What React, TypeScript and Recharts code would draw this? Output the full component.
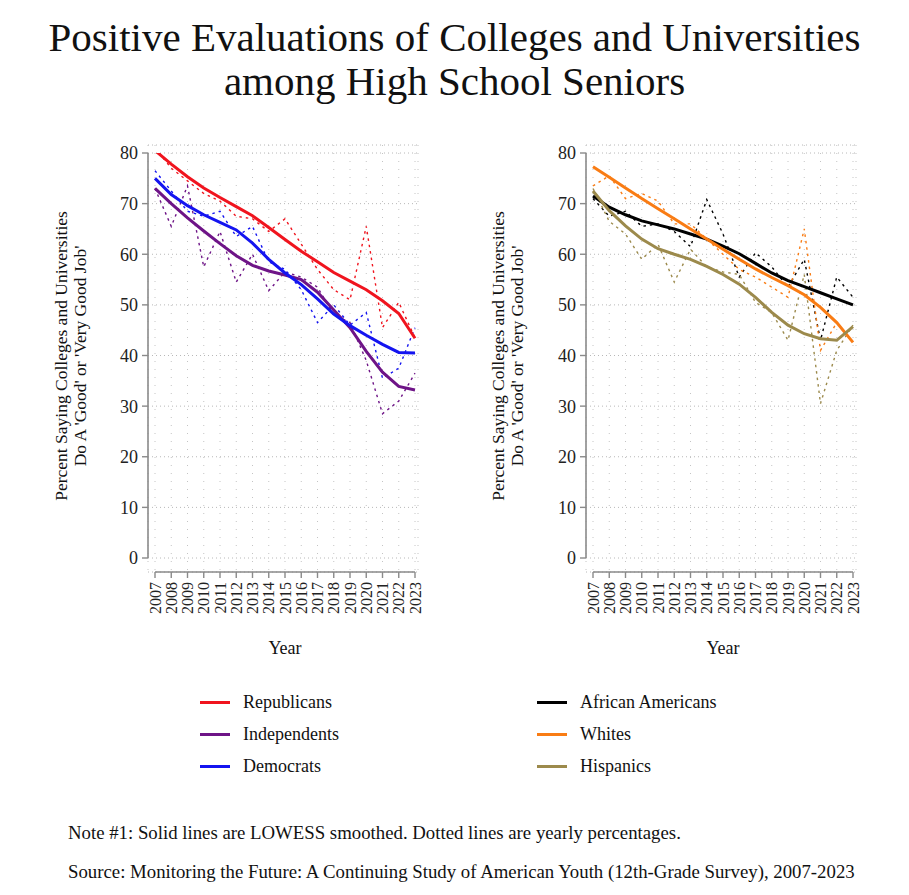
import { CartesianGrid, Line, LineChart, XAxis, YAxis } from "recharts";

const years = [2007, 2008, 2009, 2010, 2011, 2012, 2013, 2014, 2015, 2016, 2017, 2018, 2019, 2020, 2021, 2022, 2023];
const yTicks = [0, 10, 20, 30, 40, 50, 60, 70, 80];

// left panel: party
const repSmooth = [80.5, 77.8, 75.3, 73.1, 71.2, 69.4, 67.6, 65.3, 62.9, 60.6, 58.5, 56.4, 54.7, 53.0, 50.8, 48.3, 43.4];
const repYearly = [81.0, 77.0, 74.5, 72.0, 70.5, 67.5, 67.0, 64.5, 67.0, 62.0, 57.0, 53.0, 51.0, 65.5, 45.5, 50.5, 43.5];
const indSmooth = [73.0, 70.0, 67.2, 64.6, 62.1, 59.7, 57.8, 56.7, 55.9, 55.0, 52.5, 49.0, 45.5, 40.8, 36.7, 33.9, 33.2];
const indYearly = [73.0, 65.5, 73.5, 57.5, 64.5, 54.5, 60.0, 52.8, 56.5, 55.5, 53.5, 48.0, 46.5, 39.0, 28.5, 31.0, 36.5];
const demSmooth = [75.0, 71.8, 69.6, 67.8, 66.3, 64.8, 62.2, 59.0, 56.3, 54.0, 51.2, 48.2, 45.9, 44.0, 42.2, 40.6, 40.5];
const demYearly = [76.5, 72.5, 68.5, 67.5, 68.5, 63.5, 65.5, 58.5, 57.0, 53.0, 46.5, 50.0, 46.0, 48.5, 35.5, 37.5, 45.5];

// right panel: race / ethnicity
const blackSmooth = [71.5, 69.3, 67.8, 66.6, 65.8, 65.0, 64.0, 63.0, 61.6, 60.1, 58.2, 56.3, 54.8, 53.6, 52.4, 51.2, 50.0];
const blackYearly = [71.0, 67.5, 68.5, 65.5, 66.0, 64.5, 61.5, 70.8, 64.0, 55.5, 60.3, 57.5, 53.5, 59.0, 43.0, 55.5, 51.5];
const whiteSmooth = [77.3, 75.2, 73.1, 71.0, 69.0, 67.0, 65.0, 63.0, 61.0, 59.0, 57.1, 55.4, 53.8, 52.0, 49.5, 46.5, 42.6];
const whiteYearly = [73.5, 75.5, 71.0, 72.0, 70.5, 66.0, 66.0, 63.0, 60.0, 57.0, 55.5, 53.5, 51.5, 65.0, 41.0, 46.5, 42.5];
const hispSmooth = [72.5, 68.6, 65.6, 63.0, 61.1, 60.0, 59.0, 57.6, 56.0, 54.1, 51.5, 48.5, 46.0, 44.3, 43.3, 43.0, 45.7];
const hispYearly = [73.0, 66.5, 64.0, 59.0, 62.0, 54.5, 61.0, 57.5, 56.5, 56.0, 50.5, 48.5, 43.0, 56.0, 30.5, 41.0, 46.0];

const FONT = "'Liberation Serif', 'DejaVu Serif', serif";
const AXIS = "#8a8a8a";

type Series = { name: string; color: string; smooth: number[]; yearly: number[] };

const partySeries: Series[] = [
  { name: "Republicans", color: "#f0141e", smooth: repSmooth, yearly: repYearly },
  { name: "Independents", color: "#6e1487", smooth: indSmooth, yearly: indYearly },
  { name: "Democrats", color: "#1414f0", smooth: demSmooth, yearly: demYearly },
];

const raceSeries: Series[] = [
  { name: "African Americans", color: "#000000", smooth: blackSmooth, yearly: blackYearly },
  { name: "Whites", color: "#f97c14", smooth: whiteSmooth, yearly: whiteYearly },
  { name: "Hispanics", color: "#9c8a4c", smooth: hispSmooth, yearly: hispYearly },
];

function buildRows(series: Series[]) {
  return years.map((year, i) => {
    const row: Record<string, number> = { year };
    series.forEach((s, k) => {
      row[`s${k}`] = s.smooth[i];
      row[`y${k}`] = s.yearly[i];
    });
    return row;
  });
}

const YearTick = (props: any) => {
  const { x, y, payload } = props;
  return (
    <text
      transform={`translate(${x},${y + 2}) rotate(-90)`}
      textAnchor="end"
      dy="0.35em"
      fontSize={16}
      fontFamily={FONT}
      fill="#222"
    >
      {payload.value}
    </text>
  );
};

// plot box: top 145 .. bottom 572, axis line x at marginLeft + 60
function Panel({ series, left, marginLeft }: { series: Series[]; left: number; marginLeft: number }) {
  const rows = buildRows(series);
  return (
    <div style={{ position: "absolute", left, top: 0 }}>
      <LineChart
        width={440}
        height={640}
        data={rows}
        margin={{ top: 145, right: 440 - marginLeft - 60 - 270, bottom: 28, left: marginLeft }}
      >
        <CartesianGrid horizontal={true} vertical={false} stroke="#b8b8b8" strokeDasharray="1 3" />
        <CartesianGrid horizontal={false} vertical={true} stroke="#c4c4c4" strokeDasharray="1 7" />
        <XAxis
          dataKey="year"
          type="number"
          domain={[2007, 2023]}
          ticks={years}
          interval={0}
          padding={{ left: 7, right: 3 }}
          height={40}
          tickSize={6}
          tick={<YearTick />}
          axisLine={{ stroke: AXIS, strokeWidth: 1.6, strokeDasharray: "0 7 260 1000" }}
          tickLine={{ stroke: AXIS, strokeWidth: 1.4 }}
        />
        <YAxis
          domain={[0, 80]}
          allowDataOverflow={true}
          ticks={yTicks}
          width={60}
          padding={{ top: 8, bottom: 14 }}
          tickSize={6}
          tickMargin={4}
          tick={{ fontSize: 18, fontFamily: FONT, fill: "#222" }}
          axisLine={{ stroke: AXIS, strokeWidth: 1.6, strokeDasharray: "0 8 405 1000" }}
          tickLine={{ stroke: AXIS, strokeWidth: 1.4 }}
        />
        {series.map((s, k) => (
          <Line
            key={`y${k}`}
            dataKey={`y${k}`}
            type="linear"
            stroke={s.color}
            strokeWidth={1.4}
            strokeDasharray="2.5 4"
            dot={false}
            isAnimationActive={false}
          />
        ))}
        {series.map((s, k) => (
          <Line
            key={`s${k}`}
            dataKey={`s${k}`}
            type="linear"
            stroke={s.color}
            strokeWidth={3}
            dot={false}
            isAnimationActive={false}
          />
        ))}
      </LineChart>
    </div>
  );
}

const text = (extra: React.CSSProperties): React.CSSProperties => ({
  position: "absolute",
  fontFamily: FONT,
  color: "#111",
  whiteSpace: "nowrap",
  ...extra,
});

function YLabel({ cx }: { cx: number }) {
  return (
    <div
      style={text({
        left: cx,
        top: 356,
        transform: "translate(-50%, -50%) rotate(-90deg)",
        fontSize: 17.5,
        lineHeight: "19px",
        textAlign: "center",
      })}
    >
      Percent Saying Colleges and Universities
      <br />
      Do A 'Good' or 'Very Good Job'
    </div>
  );
}

function LegendBlock({ series, lineX, textX }: { series: Series[]; lineX: number; textX: number }) {
  const rowsY = [702, 734, 766];
  return (
    <>
      {series.map((s, k) => (
        <div key={s.name}>
          <div
            style={{
              position: "absolute",
              left: lineX,
              top: rowsY[k] - 1.5,
              width: 30,
              height: 3,
              background: s.color,
            }}
          />
          <div style={text({ left: textX, top: rowsY[k] - 11, fontSize: 18, lineHeight: "22px" })}>{s.name}</div>
        </div>
      ))}
    </>
  );
}

export default function App() {
  return (
    <div style={{ position: "relative", width: 909, height: 895, margin: -8, background: "#fff", overflow: "hidden" }}>
      <div
        style={text({
          left: 0,
          width: 909,
          top: 15,
          textAlign: "center",
          fontSize: 41,
          lineHeight: "44px",
        })}
      >
        Positive Evaluations of Colleges and Universities
        <br />
        among High School Seniors
      </div>

      <Panel series={partySeries} left={0} marginLeft={88} />
      <Panel series={raceSeries} left={440} marginLeft={86} />

      <YLabel cx={71} />
      <YLabel cx={508} />

      <div style={text({ left: 285, top: 648, transform: "translate(-50%, -50%)", fontSize: 18 })}>Year</div>
      <div style={text({ left: 723, top: 648, transform: "translate(-50%, -50%)", fontSize: 18 })}>Year</div>

      <LegendBlock series={partySeries} lineX={200} textX={243} />
      <LegendBlock series={raceSeries} lineX={537} textX={580} />

      <div style={text({ left: 68, top: 822, fontSize: 18.8, lineHeight: "22px" })}>
        Note #1: Solid lines are LOWESS smoothed. Dotted lines are yearly percentages.
      </div>
      <div style={text({ left: 68, top: 861, fontSize: 18.8, lineHeight: "22px" })}>
        Source: Monitoring the Future: A Continuing Study of American Youth (12th-Grade Survey), 2007-2023
      </div>
    </div>
  );
}
